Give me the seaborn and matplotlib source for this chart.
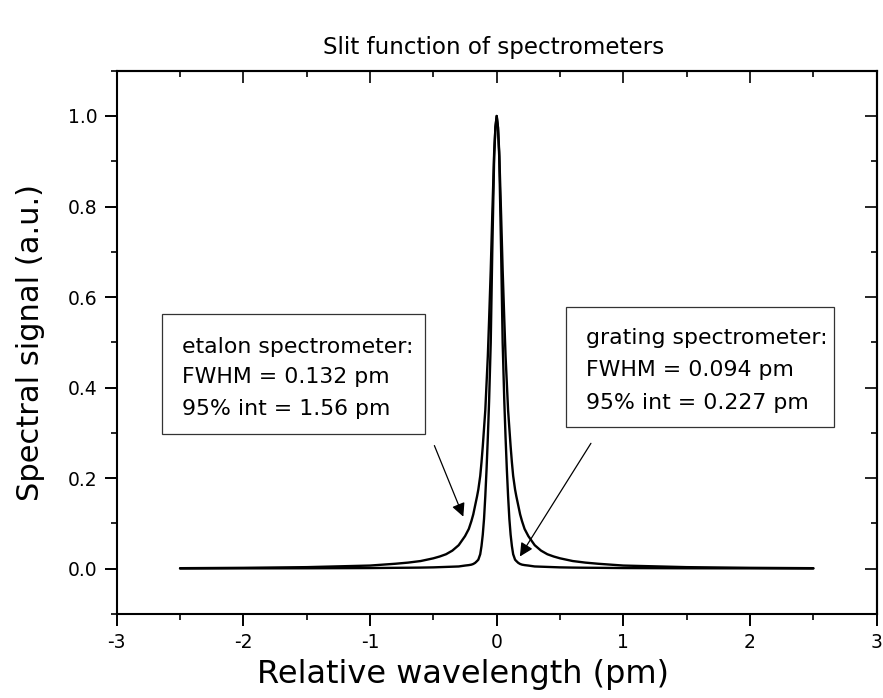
import matplotlib
matplotlib.use("Agg")
import matplotlib.pyplot as plt
from matplotlib.ticker import MultipleLocator, FormatStrFormatter
from matplotlib.patches import Rectangle
import seaborn as sns
import pandas as pd

# ---------------- data ----------------
wavelength = [-2.5, -2.0, -1.5, -1.0, -0.8, -0.7, -0.6, -0.5, -0.45, -0.4, -0.35,
              -0.3, -0.25, -0.22, -0.2, -0.185, -0.17, -0.155, -0.145, -0.13,
              -0.12, -0.11, -0.10, -0.09, -0.08, -0.07,
              -0.06, -0.047, -0.035, -0.02, -0.01, 0.0,
              0.01, 0.02, 0.035, 0.047, 0.06, 0.07, 0.08, 0.09, 0.10, 0.11,
              0.12, 0.13, 0.145, 0.155, 0.17, 0.185, 0.2, 0.22, 0.25, 0.3, 0.35,
              0.4, 0.45, 0.5, 0.6, 0.7, 0.8, 1.0, 1.5, 2.0, 2.5]

etalon = [0.0012, 0.002, 0.0035, 0.007, 0.011, 0.0135, 0.017, 0.023, 0.027, 0.032, 0.040,
          0.052, 0.072, 0.088, 0.105, 0.12, 0.14, 0.16, 0.175, 0.205,
          0.235, 0.27, 0.31, 0.35, 0.41, 0.47,
          0.55, 0.66, 0.78, 0.92, 0.975, 1.0,
          0.975, 0.92, 0.78, 0.66, 0.55, 0.47, 0.41, 0.35, 0.31, 0.27,
          0.235, 0.205, 0.175, 0.16, 0.14, 0.12, 0.105, 0.088, 0.072, 0.052, 0.040,
          0.032, 0.027, 0.023, 0.017, 0.0135, 0.011, 0.007, 0.0035, 0.002, 0.0012]

grating = [0.0005, 0.0008, 0.001, 0.0015, 0.002, 0.0022, 0.0025, 0.003, 0.0035, 0.004, 0.0045,
           0.005, 0.007, 0.008, 0.009, 0.0105, 0.013, 0.017, 0.02, 0.032,
           0.05, 0.075, 0.11, 0.16, 0.22, 0.29,
           0.37, 0.50, 0.70, 0.91, 0.975, 1.0,
           0.975, 0.91, 0.70, 0.50, 0.37, 0.29, 0.22, 0.16, 0.11, 0.075,
           0.05, 0.032, 0.02, 0.017, 0.013, 0.0105, 0.009, 0.008, 0.007, 0.005, 0.0045,
           0.004, 0.0035, 0.003, 0.0025, 0.0022, 0.002, 0.0015, 0.001, 0.0008, 0.0005]

title = "Slit function of spectrometers"
xlabel = "Relative wavelength (pm)"
ylabel = "Spectral signal (a.u.)"
etalon_text = ["etalon spectrometer:", "FWHM = 0.132 pm", "95% int = 1.56 pm"]
grating_text = ["grating spectrometer:", "FWHM = 0.094 pm", "95% int = 0.227 pm"]

df = pd.DataFrame({"x": wavelength, "etalon": etalon, "grating": grating})

# ---------------- style ----------------
sns.set_theme(style="ticks")
plt.rcParams["font.family"] = ["DejaVu Sans"]
plt.rcParams["axes.unicode_minus"] = False
plt.rcParams["text.color"] = "black"
plt.rcParams["axes.labelcolor"] = "black"

fig = plt.figure(figsize=(8.83, 6.98), dpi=100)
ax = fig.add_axes([0.13216, 0.12034, 0.86070, 0.77837])

sns.lineplot(data=df, x="x", y="etalon", ax=ax, color="black", lw=1.7,
             estimator=None, sort=True)
sns.lineplot(data=df, x="x", y="grating", ax=ax, color="black", lw=1.7,
             estimator=None, sort=True)

ax.set_xlim(-3, 3)
ax.set_ylim(-0.1, 1.1)
ax.xaxis.set_major_locator(MultipleLocator(1))
ax.xaxis.set_minor_locator(MultipleLocator(0.5))
ax.yaxis.set_major_locator(MultipleLocator(0.2))
ax.yaxis.set_minor_locator(MultipleLocator(0.1))
ax.xaxis.set_major_formatter(FormatStrFormatter("%d"))
ax.yaxis.set_major_formatter(FormatStrFormatter("%.1f"))
ax.set_yticks([0.0, 0.2, 0.4, 0.6, 0.8, 1.0])

for s in ax.spines.values():
    s.set_visible(True)
    s.set_linewidth(1.5)
    s.set_color("black")

ax.tick_params(which="major", direction="out", length=8.5, width=1.4,
               labelsize=13.5, pad=5.5, colors="black", top=False, right=False)
ax.tick_params(which="minor", direction="out", length=4.3, width=1.4,
               top=False, right=False)

# mirror ticks (inward) on top and right
secx = ax.secondary_xaxis("top")
secx.xaxis.set_major_locator(MultipleLocator(1))
secx.xaxis.set_minor_locator(MultipleLocator(0.5))
secx.tick_params(which="major", direction="in", length=8.5, width=1.4, labeltop=False)
secx.tick_params(which="minor", direction="in", length=4.3, width=1.4)
secx.spines["top"].set_linewidth(1.5)
secy = ax.secondary_yaxis("right")
secy.yaxis.set_major_locator(MultipleLocator(0.2))
secy.yaxis.set_minor_locator(MultipleLocator(0.1))
secy.tick_params(which="major", direction="in", length=8.5, width=1.4, labelright=False)
secy.tick_params(which="minor", direction="in", length=4.3, width=1.4)
secy.spines["right"].set_linewidth(1.5)

ax.set_xlabel(xlabel, fontsize=23, color="black")
ax.set_ylabel(ylabel, fontsize=22, color="black")
ax.xaxis.set_label_coords(0.456, -0.112)
ax.xaxis.label.set_va("center")
ax.yaxis.set_label_coords(-0.114, 0.5)
ax.yaxis.label.set_va("center")

ax.text(0.4964, 1.0418, title, transform=ax.transAxes, ha="center",
        va="center", fontsize=16.6, color="black")

# annotation boxes
ax.add_patch(Rectangle((-2.643, 0.298), -0.566 + 2.643, 0.563 - 0.298,
                       fill=False, lw=0.9, ec="#333333", zorder=3))
ax.add_patch(Rectangle((0.547, 0.313), 2.661 - 0.547, 0.579 - 0.313,
                       fill=False, lw=0.9, ec="#333333", zorder=3))
for txt, yb in zip(etalon_text, [0.476, 0.410, 0.340]):
    ax.text(-2.485, yb, txt, fontsize=15.8, va="baseline", ha="left", color="black")
for txt, yb in zip(grating_text, [0.496, 0.426, 0.353]):
    ax.text(0.705, yb, txt, fontsize=15.8, va="baseline", ha="left", color="black")

arrow = dict(arrowstyle="-|>", color="black", lw=0.9, mutation_scale=20,
             shrinkA=0, shrinkB=0)
ax.annotate("", xy=(-0.2635, 0.115), xytext=(-0.492, 0.272), arrowprops=arrow)
ax.annotate("", xy=(0.183, 0.027), xytext=(0.744, 0.277), arrowprops=arrow)

fig.savefig("out.png", dpi=100)
